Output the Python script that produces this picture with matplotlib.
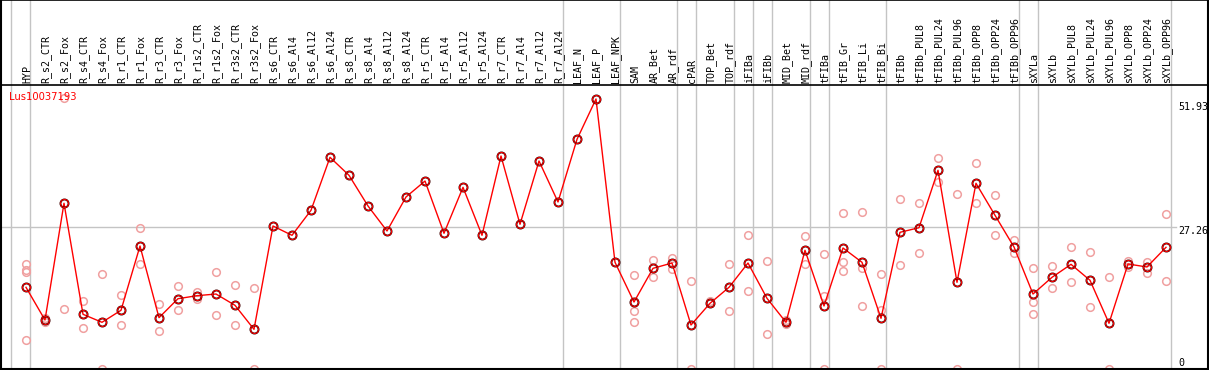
import matplotlib
matplotlib.use("Agg")
import matplotlib.pyplot as plt

title = "Lus10037193"
categories = ["HYP", "R_s2_CTR", "R_s2_Fox", "R_s4_CTR", "R_s4_Fox", "R_r1_CTR", "R_r1_Fox",
              "R_r3_CTR", "R_r3_Fox", "R_r1s2_CTR", "R_r1s2_Fox", "R_r3s2_CTR", "R_r3s2_Fox",
              "R_s6_CTR", "R_s6_Al4", "R_s6_Al12", "R_s6_Al24", "R_s8_CTR", "R_s8_Al4", "R_s8_Al12",
              "R_s8_Al24", "R_r5_CTR", "R_r5_Al4", "R_r5_Al12", "R_r5_Al24", "R_r7_CTR", "R_r7_Al4",
              "R_r7_Al12", "R_r7_Al24", "LEAF_N", "LEAF_P", "LEAF_NPK", "SAM", "AR_Bet", "AR_rdf",
              "cPAR", "TOP_Bet", "TOP_rdf", "iFIBa", "iFIBb", "MID_Bet", "MID_rdf", "tFIBa",
              "tFIB_Gr", "tFIB_Li", "tFIB_Bi", "tFIBb", "tFIBb_PUL8", "tFIBb_PUL24", "tFIBb_PUL96",
              "tFIBb_OPP8", "tFIBb_OPP24", "tFIBb_OPP96", "sXYLa", "sXYLb", "sXYLb_PUL8",
              "sXYLb_PUL24", "sXYLb_PUL96", "sXYLb_OPP8", "sXYLb_OPP24", "sXYLb_OPP96"]

means = [15.71, 9.42, 31.87, 10.52, 8.98, 11.29, 23.65, 9.87, 13.52, 14.10, 14.42, 12.25, 7.63,
         27.50, 25.71, 30.52, 40.71, 37.25, 31.35, 26.54, 33.08, 36.15, 26.10, 34.94, 25.71,
         40.96, 27.83, 40.00, 32.12, 44.17, 51.93, 20.52, 12.88, 19.36, 20.38, 8.46, 12.63,
         15.71, 20.38, 13.59, 8.98, 22.83, 12.12, 23.27, 20.52, 9.75, 26.29, 27.17, 38.21,
         16.67, 35.71, 29.56, 23.46, 14.42, 17.63, 20.13, 17.06, 8.79, 20.19, 19.62, 23.40]

replicates = [
    [20.19, 19.04, 18.6, 5.58], [9.8, 9.0, 9.5], [52.06, 11.48], [13.08, 7.88], [18.27, 0.0],
    [14.23, 8.40], [27.06, 20.13], [12.5, 7.31], [15.96, 11.29], [14.87, 13.4], [18.65, 10.33],
    [16.15, 8.40], [15.52, 0.0],
    [], [], [], [], [], [], [], [], [], [], [], [], [], [], [], [], [], [], [],
    [18.08, 12.88, 11.1, 8.98], [20.96, 17.63], [21.4, 19.29], [16.86, 0.0], [13.08, 12.63],
    [20.13, 11.1], [25.71, 15.0], [20.71, 6.67], [9.42, 8.98, 8.6], [25.52, 20.19],
    [22.12, 14.04, 0.0], [29.94, 20.52, 18.9], [30.13, 19.36, 12.06], [18.27, 11.35, 0.0],
    [32.63, 19.94], [31.87, 22.25], [40.52, 36.02], [33.6, 0.0], [39.56, 31.87], [33.4, 25.71],
    [24.8, 22.25], [19.36, 12.94, 10.52], [19.74, 15.52], [23.4, 16.67], [22.44, 11.86],
    [17.63, 0.0], [20.83, 19.56], [20.58, 18.52], [29.75, 16.86]]

group_ends = [-1, 0, 28, 31, 34, 35, 37, 38, 39, 41, 42, 45, 52, 53, 60]
ytick_values = [51.93, 27.26, 0]
ytick_labels = ["51.93", "27.26", "0"]

W, H = 1209, 370
fig = plt.figure(figsize=(W / 100, H / 100), dpi=100)
ax = fig.add_axes([0, 0, 1, 1])
ax.set_axis_off()

X0, DX = 26.0, 19.0      # pixel of first category, pixel step
Y0, DY = 369.0, 5.2      # pixel of zero, pixels per unit


def xd(px):
    return (px - X0) / DX


def yd(py):
    return (Y0 - py) / DY


ax.set_xlim(xd(0), xd(W))
ax.set_ylim(yd(H), yd(0))

grid_c = "#c4c4c4"
for g in group_ends:
    ax.axvline(g + 4.5 / DX, color=grid_c, lw=1, zorder=1)
ax.plot([xd(0), xd(1176)], [27.26, 27.26], color=grid_c, lw=1, zorder=1)

# borders
ax.axhline(yd(0.5), color="black", lw=1.2, zorder=5)
ax.axhline(yd(85), color="black", lw=1.2, zorder=5)
ax.axhline(yd(369.3), color="black", lw=1.5, zorder=5)
ax.axvline(xd(0.7), color="black", lw=1.5, zorder=5)
ax.axvline(xd(1207.6), color="black", lw=1.5, zorder=5)

for i, c in enumerate(categories):
    ax.text(i + 1.0 / DX, yd(83.5), c, rotation=90, ha="center", va="bottom",
            family="DejaVu Sans Mono", fontsize=7.2, color="black")

rx, ry = [], []
for i, reps in enumerate(replicates):
    for v in reps:
        rx.append(i)
        ry.append(v)
ax.plot(rx, ry, linestyle="none", marker="o", markersize=5.5, markerfacecolor="none",
        markeredgecolor="#f0a0a0", markeredgewidth=1.1, zorder=3)

xs = list(range(len(means)))
ax.plot(xs, means, color="red", lw=1.0, zorder=4)
ax.plot(xs, means, linestyle="none", marker="o", markersize=5.8, markerfacecolor="none",
        markeredgecolor="#400000", markeredgewidth=1.4, zorder=4)
ax.plot(xs, means, linestyle="none", marker="o", markersize=5.8, markerfacecolor="none",
        markeredgecolor="red", markeredgewidth=0.7, zorder=4)

ax.text(xd(9), yd(97), title, color="red", ha="left", va="center",
        family="DejaVu Sans", fontsize=7.2)

offsets = [-5.5, -2.5, 4.5]
for v, lab, off in zip(ytick_values, ytick_labels, offsets):
    ax.annotate(lab, xy=(xd(1178), v), xytext=(0, off), textcoords="offset points",
                ha="left", va="center", family="DejaVu Sans Mono", fontsize=7.2, color="black")

fig.savefig("out.png", dpi=100)
